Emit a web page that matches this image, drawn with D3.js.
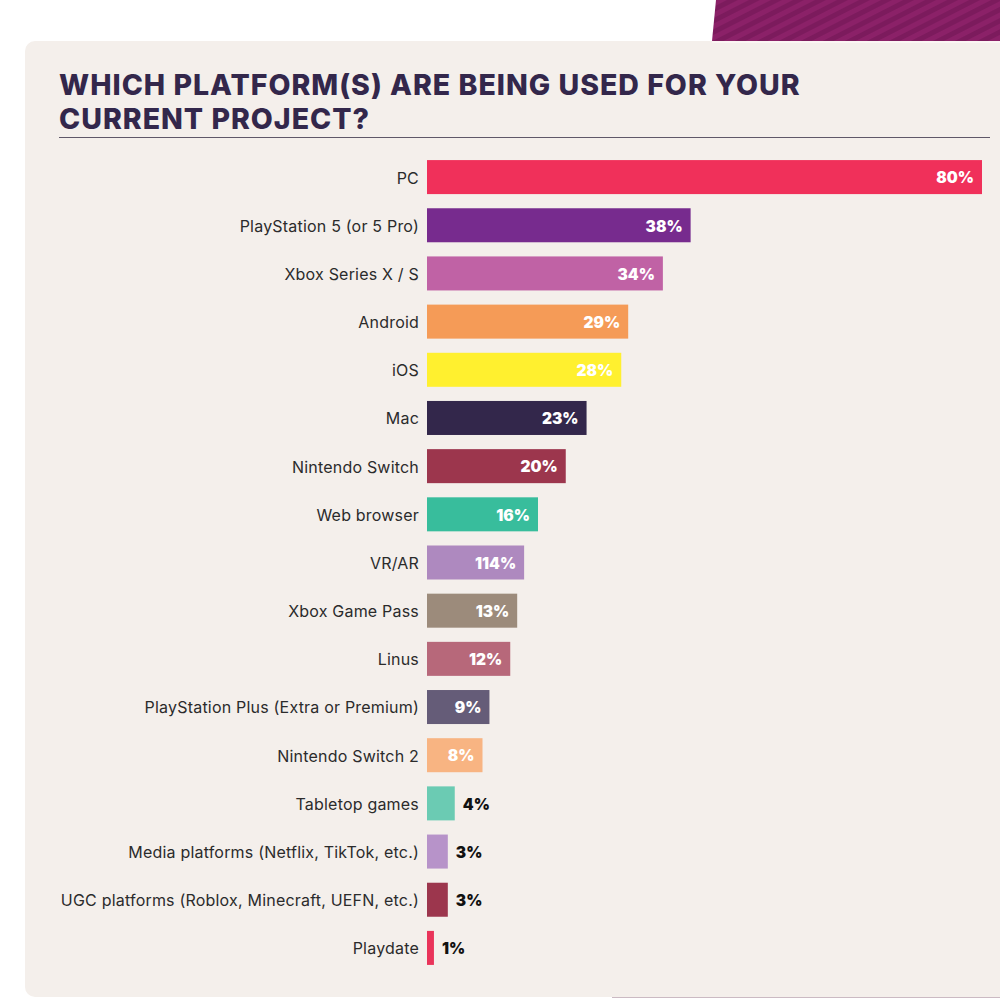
<!DOCTYPE html>
<html>
<head>
<meta charset="utf-8">
<script src="https://cdn.jsdelivr.net/npm/d3@7"></script>
<style>
html, body { margin: 0; padding: 0; background: #fff; overflow: hidden; }
svg { display: block; }
text { font-family: Inter, "Open Sans", sans-serif; }
</style>
</head>
<body>
<script>
// chart data
const categories = ["PC", "PlayStation 5 (or 5 Pro)", "Xbox Series X / S", "Android", "iOS", "Mac",
  "Nintendo Switch", "Web browser", "VR/AR", "Xbox Game Pass", "Linus",
  "PlayStation Plus (Extra or Premium)", "Nintendo Switch 2", "Tabletop games",
  "Media platforms (Netflix, TikTok, etc.)", "UGC platforms (Roblox, Minecraft, UEFN, etc.)", "Playdate"];
const values = [80, 38, 34, 29, 28, 23, 20, 16, 14, 13, 12, 9, 8, 4, 3, 3, 1];
// the source prints 114% on the VR/AR bar, kept as printed
const valueLabels = ["80%", "38%", "34%", "29%", "28%", "23%", "20%", "16%", "114%", "13%", "12%", "9%", "8%", "4%", "3%", "3%", "1%"];
const barColors = ["#f0305a", "#772b8e", "#c062a5", "#f59b57", "#fff02f", "#33274b", "#9c364d", "#38bd9c",
  "#ae89bf", "#9c8b7b", "#b7687a", "#655c78", "#f8b482", "#6bcbb3", "#b793c9", "#9c364d", "#e9345a"];
const titleLines = ["WHICH PLATFORM(S) ARE BEING USED FOR YOUR", "CURRENT PROJECT?"];

const width = 1000, height = 998;
const svg = d3.select("body").append("svg").attr("width", width).attr("height", height);

// striped corner at the top
const defs = svg.append("defs");
const stripes = defs.append("pattern")
  .attr("id", "stripes").attr("patternUnits", "userSpaceOnUse")
  .attr("width", 10).attr("height", 10)
  .attr("patternTransform", "rotate(-27)");
stripes.append("rect").attr("width", 10).attr("height", 10).attr("fill", "#8b2168");
stripes.append("rect").attr("width", 10).attr("height", 5).attr("fill", "#7c1b5d");

svg.append("path").attr("d", "M716,0 L1000,0 L1000,41 L712,41 Z").attr("fill", "url(#stripes)");

// panel, with the faint edges the reference shows
svg.append("rect").attr("x", 25).attr("y", 41).attr("width", 990).attr("height", 956)
  .attr("rx", 10).attr("fill", "#f4efeb");
svg.append("line").attr("x1", 712).attr("x2", 1000).attr("y1", 42).attr("y2", 42)
  .attr("stroke", "#fbf5f3").attr("stroke-width", 2);
svg.append("line").attr("x1", 612).attr("x2", 1000).attr("y1", 997.5).attr("y2", 997.5)
  .attr("stroke", "#cbbac3").attr("stroke-width", 1);

// title
svg.selectAll(".title").data(titleLines).enter().append("text")
  .attr("class", "title")
  .attr("x", 59)
  .attr("y", (d, i) => 94.5 + i * 34)
  .attr("font-size", 28.5)
  .attr("font-weight", 800)
  .attr("letter-spacing", 1)
  .attr("fill", "#33274b")
  .text(d => d);

svg.append("line").attr("x1", 59).attr("x2", 990).attr("y1", 137.5).attr("y2", 137.5)
  .attr("stroke", "#5f5768").attr("stroke-width", 1);

// scales
const x = d3.scaleLinear().domain([0, 80]).range([427, 982]);
const y = d3.scaleBand().domain(categories).range([153, 972]).paddingInner(0.294).paddingOuter(0.147);

const rows = svg.selectAll(".row").data(categories).enter().append("g").attr("class", "row");

rows.append("rect")
  .attr("x", x(0))
  .attr("y", d => y(d))
  .attr("height", y.bandwidth())
  .attr("width", (d, i) => x(values[i]) - x(0))
  .attr("fill", (d, i) => barColors[i]);

rows.append("text")
  .attr("x", x(0) - 8)
  .attr("y", d => y(d) + y.bandwidth() / 2 + 0.7)
  .attr("dy", "0.36em")
  .attr("text-anchor", "end")
  .attr("font-size", 16)
  .attr("letter-spacing", 0.2)
  .attr("fill", "#2b2b2b")
  .text(d => d);

// labels sit inside the bar, small bars get them outside in black
rows.append("text")
  .attr("x", (d, i) => values[i] > 4 ? x(values[i]) - 8 : x(values[i]) + 8)
  .attr("y", d => y(d) + y.bandwidth() / 2 + 0.7)
  .attr("dy", "0.36em")
  .attr("text-anchor", (d, i) => values[i] > 4 ? "end" : "start")
  .attr("font-size", 15.5)
  .attr("font-weight", 900)
  .attr("fill", (d, i) => values[i] > 4 ? "#fff" : "#111")
  .text((d, i) => valueLabels[i]);
</script>
</body>
</html>
